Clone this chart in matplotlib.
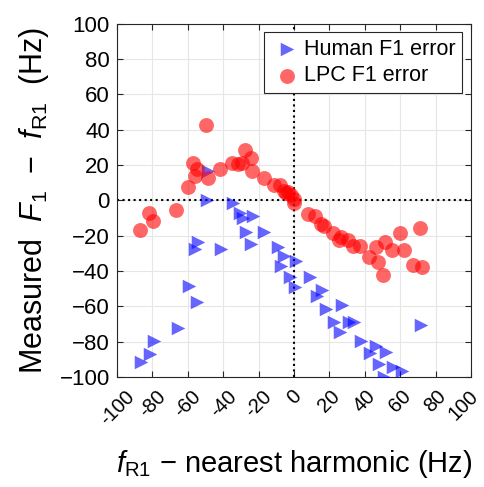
import matplotlib
matplotlib.use('Agg')
import matplotlib.pyplot as plt
import matplotlib.transforms as mtransforms

plt.rcParams['font.family'] = ['Liberation Sans', 'DejaVu Sans']
plt.rcParams['mathtext.fontset'] = 'custom'
plt.rcParams['mathtext.rm'] = 'Liberation Sans'
plt.rcParams['mathtext.it'] = 'Liberation Sans:italic'

# Human F1 error (blue triangles)
human_x = [-48.8, -49.2, -34.6, -30.3, -29, -23.3, -27.1, -16.8, -24.1, -54.4,
           -55.8, -41.2, -9.2, -5.8, -7.3, 1.1, -2.3, 0.6, -59.1, -54.8,
           -65.7, -78.9, -81.2, -86.1, 9.2, 15.8, 13, 18.1, 26.9, 22.8,
           31.2, 34, 26.2, 37.9, 46.3, 52, 43.1, 48.2, 55.8, 60.8,
           51, 71.8]
human_y = [16.4, 0.4, -1.5, -7.1, -10, -9, -18.1, -18.1, -24.7, -23.8,
           -27.4, -27.4, -26.6, -31.3, -37, -34.6, -43.6, -49.3, -48.7, -57.6,
           -72.3, -79.9, -86.9, -91.8, -43.4, -50.6, -54.4, -61.5, -59.5, -68.6,
           -69.1, -68.6, -74.8, -79.5, -82.7, -85.6, -86.5, -92.7, -94.6, -96.5,
           -100, -70.4]

# LPC F1 error (red circles)
lpc_x = [-49.7, -56.9, -55, -55.8, -48.8, -59.7, -41.8, -35, -31.5, -29.5,
         -27.7, -24.5, -23.7, -17, -11.1, -7.9, -5.8, -3.2, -0.2, -81.7,
         -79.8, -86.8, -66.7, 0.2, -4.5, -1.7, 8.1, 12, 15.3, 16.8,
         21.9, 25.2, 26.6, 30.3, 33.2, 37.3, 42.2, 47.3, 50.1, 46.3,
         51.4, 55.2, 60.1, 62.3, 71.4, 67.4, 72.3]
lpc_y = [42.5, 21.2, 17.8, 13.6, 12.7, 7.6, 17.8, 21.2, 20.8, 21.2,
         28.3, 24, 16.4, 12.7, 8.5, 8.9, 5.1, 4.8, 1, -7.1,
         -11.9, -17, -5.3, -1.5, 4.2, 3.2, -7.7, -8.7, -13.4, -14.3,
         -18.5, -22.3, -20.7, -22.3, -26, -26, -32, -35, -42.5, -26.4,
         -23.6, -28.3, -18.5, -28.3, -15.7, -36.4, -38]

ticks = list(range(-100, 101, 20))

fig = plt.figure(figsize=(4.85, 4.87), dpi=100)
ax = fig.add_axes([0.241, 0.226, 0.730, 0.725])

ax.scatter(human_x, human_y, marker='>', s=95, color='blue', alpha=0.6,
           linewidths=0, label='Human F1 error', zorder=3)
ax.scatter(lpc_x, lpc_y, marker='o', s=115, color='red', alpha=0.6,
           linewidths=0, label='LPC F1 error', zorder=3)

ax.axhline(0, color='black', linestyle=':', linewidth=1.5, zorder=2)
ax.axvline(0, color='black', linestyle=':', linewidth=1.5, zorder=2)

ax.set_xlim(-100, 100)
ax.set_ylim(-100, 100)
ax.set_xticks(ticks)
ax.set_yticks(ticks)
ax.set_xticklabels([str(t) for t in ticks], rotation=45, ha='center', va='top')
ax.grid(True, color='#e6e6e6', linewidth=0.8, zorder=0)
ax.set_axisbelow(True)
ax.tick_params(direction='in', top=True, right=True, length=4,
               labelsize=16, color='#262626')
ax.tick_params(axis='x', pad=7, labelsize=14.5)
ax.tick_params(axis='y', pad=5)
for s in ax.spines.values():
    s.set_color('#262626')
    s.set_linewidth(0.8)

# nudge the last x tick label so it stays inside the figure
last = ax.get_xticklabels()[-1]
last.set_transform(last.get_transform() +
                   mtransforms.ScaledTranslation(-8 / 100, 0, fig.dpi_scale_trans))

ax.set_xlabel(r'$f_{\mathrm{R1}}$ $-$ nearest harmonic (Hz)', fontsize=21, labelpad=14)
ax.set_ylabel(r'Measured  $F_1$  $-$  $f_{\mathrm{R1}}$  (Hz)', fontsize=22, labelpad=6)

leg = ax.legend(loc='upper right', fontsize=15.5, fancybox=False, framealpha=1,
                edgecolor='#262626', handletextpad=0.05, borderpad=0.3,
                labelspacing=0.25, borderaxespad=0.4, handlelength=1.5)
leg.get_frame().set_linewidth(0.8)

fig.savefig('out.png', dpi=100)
